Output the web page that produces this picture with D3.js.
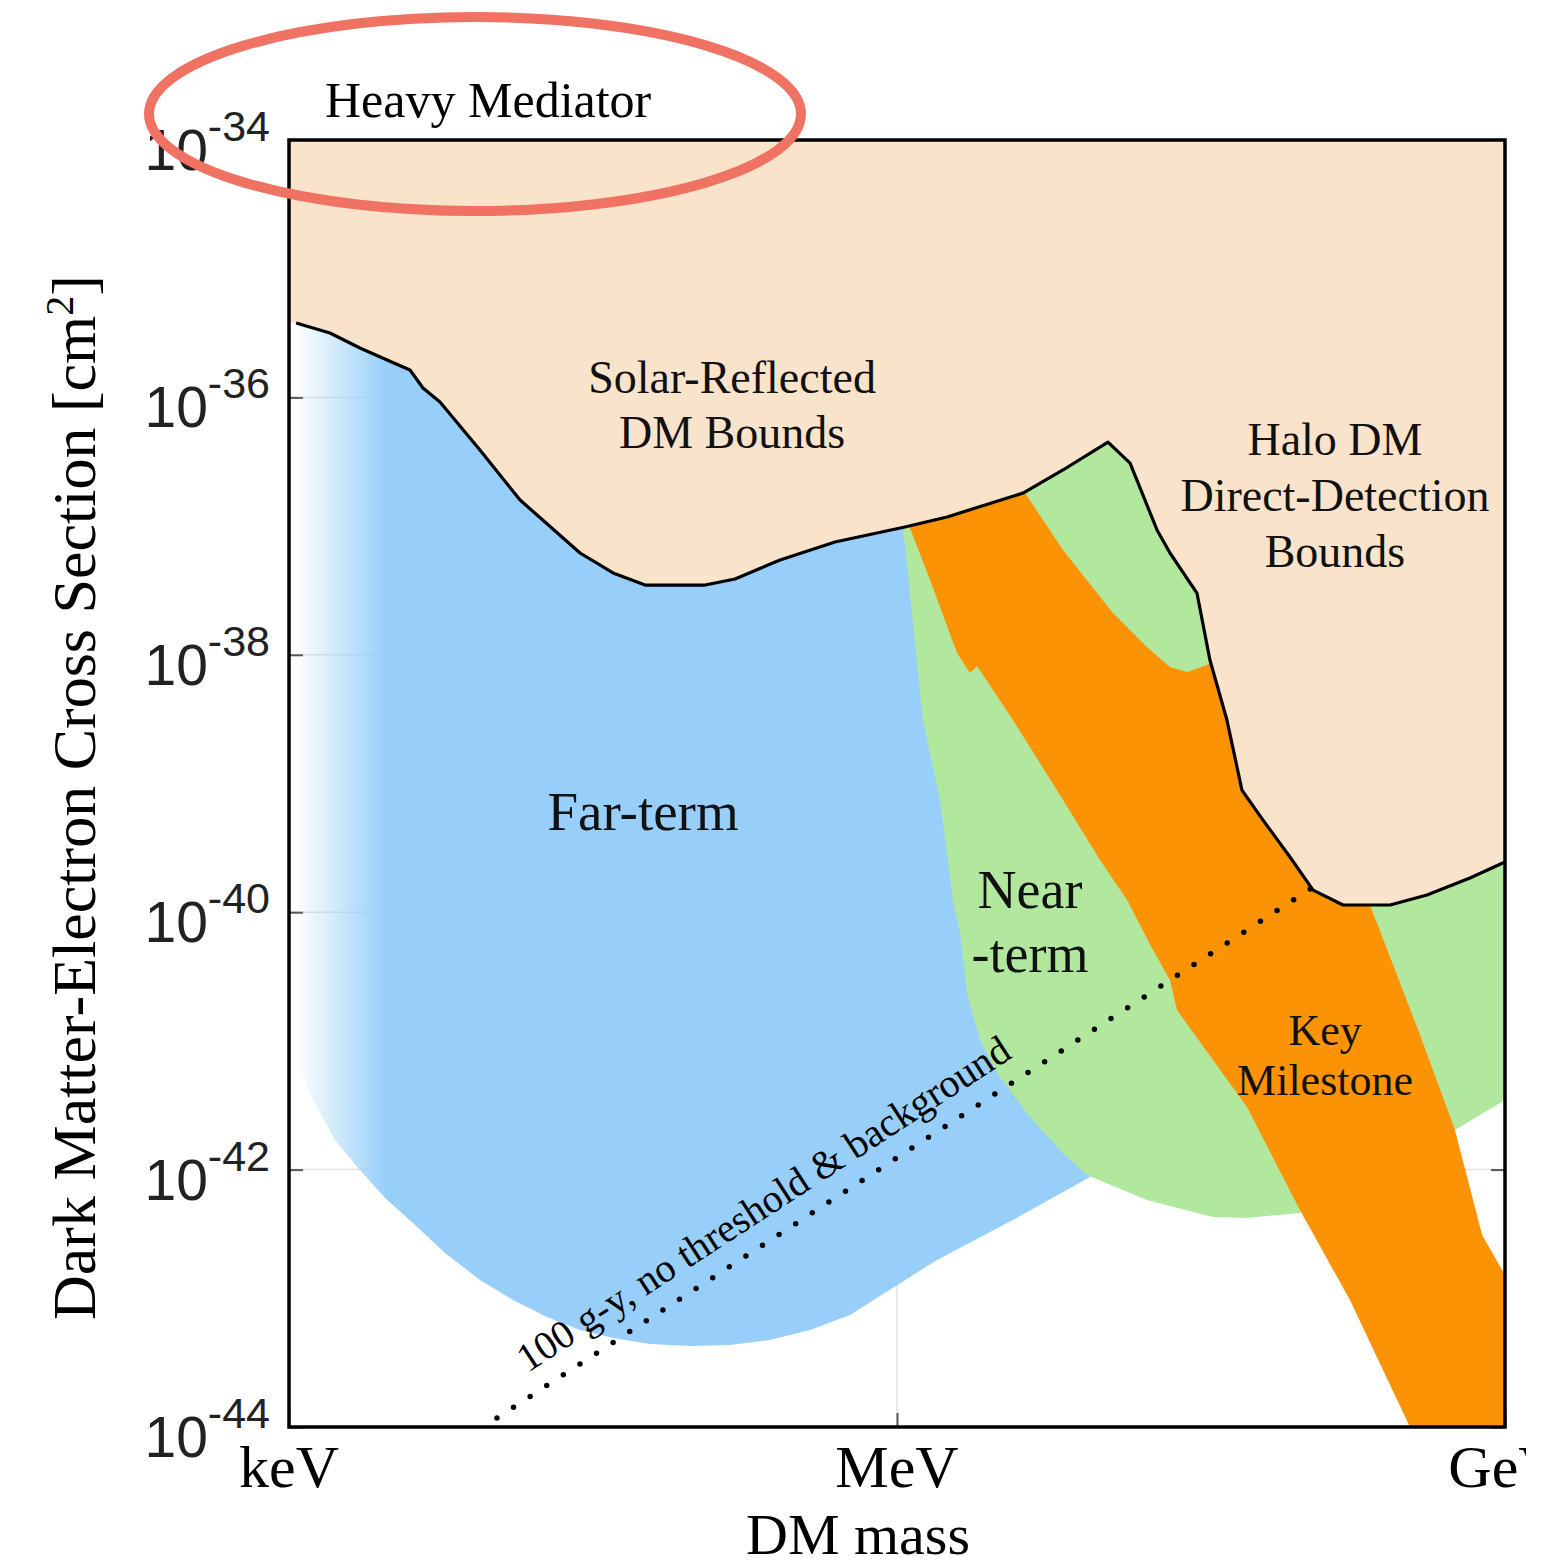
<!DOCTYPE html>
<html>
<head>
<meta charset="utf-8">
<script src="https://cdn.jsdelivr.net/npm/d3@7"></script>
<style>
  html, body { margin: 0; padding: 0; background: #fff; }
  svg { display: block; }
</style>
</head>
<body>
<script>
// Every point is [log10(DM mass / eV), log10(cross section / cm^2)].
const massTicks = [3, 6, 9];
const massTickLabels = ["keV", "MeV", "GeV"];
const sigmaTicks = [-44, -42, -40, -38, -36, -34];

// Combined solar-reflected / halo direct-detection exclusion boundary
const boundCurve = [
  [3.035, -35.422], [3.202, -35.500], [3.350, -35.616], [3.484, -35.709],
  [3.597, -35.787], [3.661, -35.927], [3.745, -36.036], [3.942, -36.409],
  [4.140, -36.797], [4.436, -37.209], [4.599, -37.364], [4.757, -37.458],
  [5.053, -37.458], [5.201, -37.411], [5.423, -37.263], [5.694, -37.124],
  [6.039, -37.007], [6.247, -36.929], [6.622, -36.743], [6.819, -36.564],
  [7.041, -36.347], [7.150, -36.510], [7.283, -37.030], [7.347, -37.209],
  [7.480, -37.520], [7.544, -38.040], [7.628, -38.507], [7.702, -39.051],
  [7.806, -39.284], [7.939, -39.571], [8.053, -39.828], [8.201, -39.944],
  [8.433, -39.944], [8.615, -39.866], [8.827, -39.734], [9.000, -39.610]
];

// Far-term reach (upper edge is hidden under the exclusion region)
const farTerm = [
  [3.030, -35.243], [6.163, -35.243], [6.706, -39.905], [6.952, -42.057],
  [6.572, -42.392], [6.197, -42.702], [5.768, -43.130], [5.571, -43.246],
  [5.373, -43.324], [5.176, -43.363], [4.979, -43.371], [4.781, -43.355],
  [4.599, -43.309], [4.436, -43.246], [4.273, -43.145], [4.105, -43.013],
  [3.942, -42.858], [3.770, -42.648], [3.612, -42.415], [3.474, -42.221],
  [3.350, -42.003], [3.227, -41.770], [3.118, -41.459], [3.030, -41.148]
];

// Near-term reach
const nearTerm = [
  [6.030, -36.253], [9.000, -36.253], [9.000, -41.459], [8.753, -41.692],
  [7.988, -42.337], [7.727, -42.376], [7.559, -42.368], [7.233, -42.236],
  [6.937, -42.042], [6.819, -41.871], [6.656, -41.591], [6.493, -41.250],
  [6.409, -40.993], [6.345, -40.628], [6.311, -40.162], [6.276, -39.905],
  [6.212, -39.128], [6.128, -38.507], [6.030, -37.007]
];

// Key milestone band
const keyMilestone = [
  [6.039, -36.914], [6.632, -36.642], [6.632, -36.743], [6.819, -37.186],
  [7.066, -37.675], [7.233, -37.939], [7.347, -38.095], [7.431, -38.134],
  [7.530, -38.079], [7.569, -38.040], [7.643, -38.040], [8.289, -39.750],
  [8.334, -39.944], [8.581, -40.954], [8.753, -41.692], [8.887, -42.508],
  [9.000, -42.819], [9.000, -44.000], [8.531, -44.000], [8.235, -43.013],
  [7.988, -42.314], [7.727, -41.514], [7.559, -41.148], [7.381, -40.760],
  [7.347, -40.527], [7.263, -40.294], [7.135, -39.905], [7.002, -39.594],
  [6.804, -39.089], [6.572, -38.507], [6.395, -38.087], [6.360, -38.141],
  [6.296, -37.986], [6.163, -37.419]
];

// 100 g-year exposure, no threshold & background
const exposureLine = [[4.026, -43.93], [8.048, -39.81]];
const exposureLabel = "100 g-y, no threshold & background";
const exposureLabelAt = 4.234;

// Region labels: [text lines, mass exp, sigma exp of first baseline, font px, line step px]
const regionLabels = [
  [["Solar-Reflected", "DM Bounds"], 5.186, -35.966, 46, 55],
  [["Halo DM", "Direct-Detection", "Bounds"], 8.161, -36.448, 46, 56],
  [["Far-term"], 4.747, -39.361, 55, 0],
  [["Near", "-term"], 6.656, -39.967, 54, 64],
  [["Key", "Milestone"], 8.112, -41.032, 44, 50]
];

const W = 1568, H = 1567;
const plot = { left: 289, right: 1505, top: 140, bottom: 1427 };

const x = d3.scaleLog().domain([1e3, 1e9]).range([plot.left, plot.right]);
const y = d3.scaleLog().domain([1e-44, 1e-34]).range([plot.bottom, plot.top]);
const px = d => x(Math.pow(10, d[0]));
const py = d => y(Math.pow(10, d[1]));
const line = d3.line().x(px).y(py);
const area = pts => line(pts) + "Z";

const serif = "'Liberation Serif', 'Times New Roman', Times, serif";
const sans = "'Liberation Sans', Arial, Helvetica, sans-serif";

const svg = d3.select("body").append("svg")
  .attr("width", W).attr("height", H)
  .attr("viewBox", `0 0 ${W} ${H}`);

svg.append("rect").attr("width", W).attr("height", H).attr("fill", "#fff");

const defs = svg.append("defs");
const fade = defs.append("linearGradient")
  .attr("id", "farFade")
  .attr("gradientUnits", "userSpaceOnUse")
  .attr("x1", x(Math.pow(10, 3.03))).attr("x2", x(Math.pow(10, 3.48)))
  .attr("y1", 0).attr("y2", 0);
fade.append("stop").attr("offset", 0).attr("stop-color", "#97cffa").attr("stop-opacity", 0);
fade.append("stop").attr("offset", 0.45).attr("stop-color", "#97cffa").attr("stop-opacity", 0.45);
fade.append("stop").attr("offset", 1).attr("stop-color", "#97cffa").attr("stop-opacity", 1);

defs.append("clipPath").attr("id", "pageClip")
  .append("rect").attr("x", 0).attr("y", 0).attr("width", 1526).attr("height", H);

// Grid
const grid = svg.append("g").attr("stroke", "#e2e2e2").attr("stroke-width", 1.5);
grid.selectAll("line.h").data(sigmaTicks).join("line")
  .attr("x1", plot.left).attr("x2", plot.right)
  .attr("y1", e => y(Math.pow(10, e))).attr("y2", e => y(Math.pow(10, e)));
grid.selectAll("line.v").data(massTicks).join("line")
  .attr("y1", plot.top).attr("y2", plot.bottom)
  .attr("x1", e => x(Math.pow(10, e))).attr("x2", e => x(Math.pow(10, e)));

// Ticks pointing inward, layered beneath the filled regions
const tickStyle = g => {
  g.select(".domain").remove();
  g.selectAll(".tick line").attr("stroke", "#555").attr("stroke-width", 2);
  g.selectAll(".tick text").remove();
};
const sigmaVals = sigmaTicks.map(e => Math.pow(10, e));
const massVals = massTicks.map(e => Math.pow(10, e));
svg.append("g").attr("transform", `translate(${plot.left},0)`)
  .call(d3.axisLeft(y).tickValues(sigmaVals).tickSize(-14).tickFormat("")).call(tickStyle);
svg.append("g").attr("transform", `translate(${plot.right},0)`)
  .call(d3.axisRight(y).tickValues(sigmaVals).tickSize(-14).tickFormat("")).call(tickStyle);
svg.append("g").attr("transform", `translate(0,${plot.bottom})`)
  .call(d3.axisBottom(x).tickValues(massVals).tickSize(-14).tickFormat("")).call(tickStyle);

// Regions
svg.append("path").attr("d", area(farTerm)).attr("fill", "url(#farFade)");
svg.append("path").attr("d", area(nearTerm)).attr("fill", "#b1e89e");
svg.append("path").attr("d", area(keyMilestone)).attr("fill", "#fb9305");

const excluded = [[3, -34], [9, -34]]
  .concat(boundCurve.slice().reverse())
  .concat([[3, boundCurve[0][1]]]);
svg.append("path").attr("d", area(excluded)).attr("fill", "#fae3cb");
svg.append("path").attr("d", line(boundCurve))
  .attr("fill", "none").attr("stroke", "#000").attr("stroke-width", 3.2)
  .attr("stroke-linejoin", "round");

// Exposure line
svg.append("path").attr("d", line(exposureLine))
  .attr("fill", "none").attr("stroke", "#000").attr("stroke-width", 5.5)
  .attr("stroke-linecap", "round").attr("stroke-dasharray", "0 19.8");

const [e0, e1] = exposureLine;
const ang = Math.atan2(py(e1) - py(e0), px(e1) - px(e0)) * 180 / Math.PI;
const t = (exposureLabelAt - e0[0]) / (e1[0] - e0[0]);
const lp = [exposureLabelAt, e0[1] + t * (e1[1] - e0[1])];
svg.append("text")
  .attr("transform", `translate(${px(lp)},${py(lp)}) rotate(${ang})`)
  .attr("x", 0).attr("y", -21)
  .attr("font-family", serif).attr("font-size", 40).attr("fill", "#000")
  .text(exposureLabel);

// Region labels
regionLabels.forEach(([lines, m, s, fs, step]) => {
  const tx = svg.append("text")
    .attr("text-anchor", "middle")
    .attr("font-family", serif).attr("font-size", fs).attr("fill", "#111");
  lines.forEach((ln, i) => {
    tx.append("tspan").attr("x", px([m, s])).attr("y", py([m, s]) + i * step).text(ln);
  });
});

// Frame
svg.append("rect")
  .attr("x", plot.left).attr("y", plot.top)
  .attr("width", plot.right - plot.left).attr("height", plot.bottom - plot.top)
  .attr("fill", "none").attr("stroke", "#000").attr("stroke-width", 3.5);

// Y tick labels: 10^n
sigmaTicks.forEach(e => {
  const ty = y(Math.pow(10, e));
  const tx = svg.append("text")
    .attr("text-anchor", "end").attr("font-family", sans).attr("fill", "#222");
  tx.append("tspan").attr("x", 270).attr("y", ty + 30).attr("font-size", 57).text("10");
  tx.append("tspan").attr("dy", -29).attr("font-size", 43).text(String(e));
});

// X tick labels
svg.append("g").attr("clip-path", "url(#pageClip)")
  .selectAll("text").data(massTicks).join("text")
  .attr("x", e => x(Math.pow(10, e)))
  .attr("y", 1487)
  .attr("text-anchor", "middle")
  .attr("font-family", serif).attr("font-size", 60).attr("fill", "#000")
  .text((e, i) => massTickLabels[i]);

// Axis titles
svg.append("text")
  .attr("x", 858).attr("y", 1554)
  .attr("text-anchor", "middle")
  .attr("font-family", serif).attr("font-size", 58).attr("fill", "#000")
  .text("DM mass");

const yTitle = svg.append("text")
  .attr("transform", `translate(95,${(plot.top + plot.bottom) / 2 + 14}) rotate(-90)`)
  .attr("text-anchor", "middle")
  .attr("font-family", serif).attr("font-size", 62).attr("fill", "#000");
yTitle.append("tspan").text("Dark Matter-Electron Cross Section [cm");
yTitle.append("tspan").attr("font-size", 40).attr("dy", -22).text("2");
yTitle.append("tspan").attr("dy", 22).text("]");

// Model annotation
svg.append("text")
  .attr("x", 325).attr("y", 117)
  .attr("font-family", serif).attr("font-size", 50).attr("fill", "#000")
  .text("Heavy Mediator");
svg.append("ellipse")
  .attr("cx", 475).attr("cy", 114).attr("rx", 326).attr("ry", 97)
  .attr("fill", "none").attr("stroke", "#f07262").attr("stroke-width", 10);
</script>
</body>
</html>
